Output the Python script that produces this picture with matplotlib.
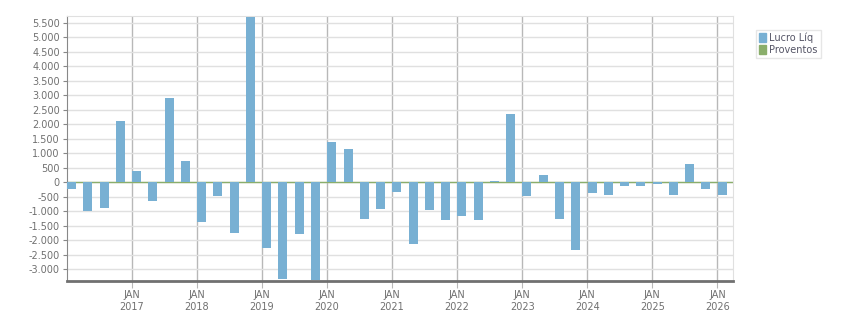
import matplotlib.pyplot as plt
import numpy as np
from matplotlib.ticker import FuncFormatter, MultipleLocator
from matplotlib.patches import Patch

# quarterly results, Q1 2016 .. Q1 2026
lucro_liq = [
    -220, -990, -880, 2120,
    390, -650, 2910, 740,
    -1370, -470, -1740, 5720,
    -2270, -3330, -1780, -3380,
    1390, 1150, -1270, -920,
    -330, -2130, -960, -1300,
    -1170, -1300, 50, 2360,
    -470, 250, -1270, -2330,
    -360, -430, -120, -120,
    -80, -430, 630, -250,
    -430,
]
proventos = [0] * len(lucro_liq)
first_quarter = 2016.074
year_ticks = list(range(2017, 2027))

BLUE = '#78b0d3'
GREEN = '#8aae6b'
TEXT = '#707070'

x = first_quarter + 0.25 * np.arange(len(lucro_liq))

fig = plt.figure(figsize=(8.51, 3.13), dpi=100)
ax = fig.add_axes([0.0784, 0.1032, 0.7829, 0.8457])

ax.axhline(0, color=GREEN, lw=1, zorder=2)
ax.bar(x, lucro_liq, width=0.138, color=BLUE, zorder=3)
ax.bar(x, proventos, width=0.138, color=GREEN, zorder=3)

ax.set_xlim(2016.0, 2026.24)
ax.set_ylim(-3405, 5740)

ax.yaxis.set_major_locator(MultipleLocator(500))
ax.yaxis.set_major_formatter(FuncFormatter(lambda v, p: f'{int(v):,}'.replace(',', '.')))
ax.set_xticks(year_ticks)
ax.set_xticklabels([f'JAN\n{y}' for y in year_ticks])

ax.grid(axis='y', color='#e0e0e0', lw=1, zorder=0)
ax.grid(axis='x', color='#b8b8b8', lw=1, zorder=1)

for side in ['top', 'right']:
    ax.spines[side].set_color('#e0e0e0')
ax.spines['left'].set_color('#888888')
ax.spines['bottom'].set_color('#707070')
ax.spines['bottom'].set_linewidth(2)
ax.spines['bottom'].set_zorder(4)

ax.tick_params(axis='y', length=3, color='#888888', labelsize=7, labelcolor=TEXT, pad=2)
ax.tick_params(axis='x', length=5, color='#b8b8b8', labelsize=7, labelcolor=TEXT, pad=2)

handles = [Patch(color=BLUE, label='Lucro Líq'), Patch(color=GREEN, label='Proventos')]
leg = fig.legend(handles=handles, loc='upper left', bbox_to_anchor=(0.888, 0.905),
                 fontsize=7, frameon=True, fancybox=False, handlelength=0.8, handleheight=1.0,
                 handletextpad=0.3, labelspacing=0.15, borderpad=0.3, borderaxespad=0)
leg.get_frame().set_edgecolor('#e0e0e0')
leg.get_frame().set_linewidth(1)
for t in leg.get_texts():
    t.set_color('#555566')

fig.savefig('out.png', dpi=100)
